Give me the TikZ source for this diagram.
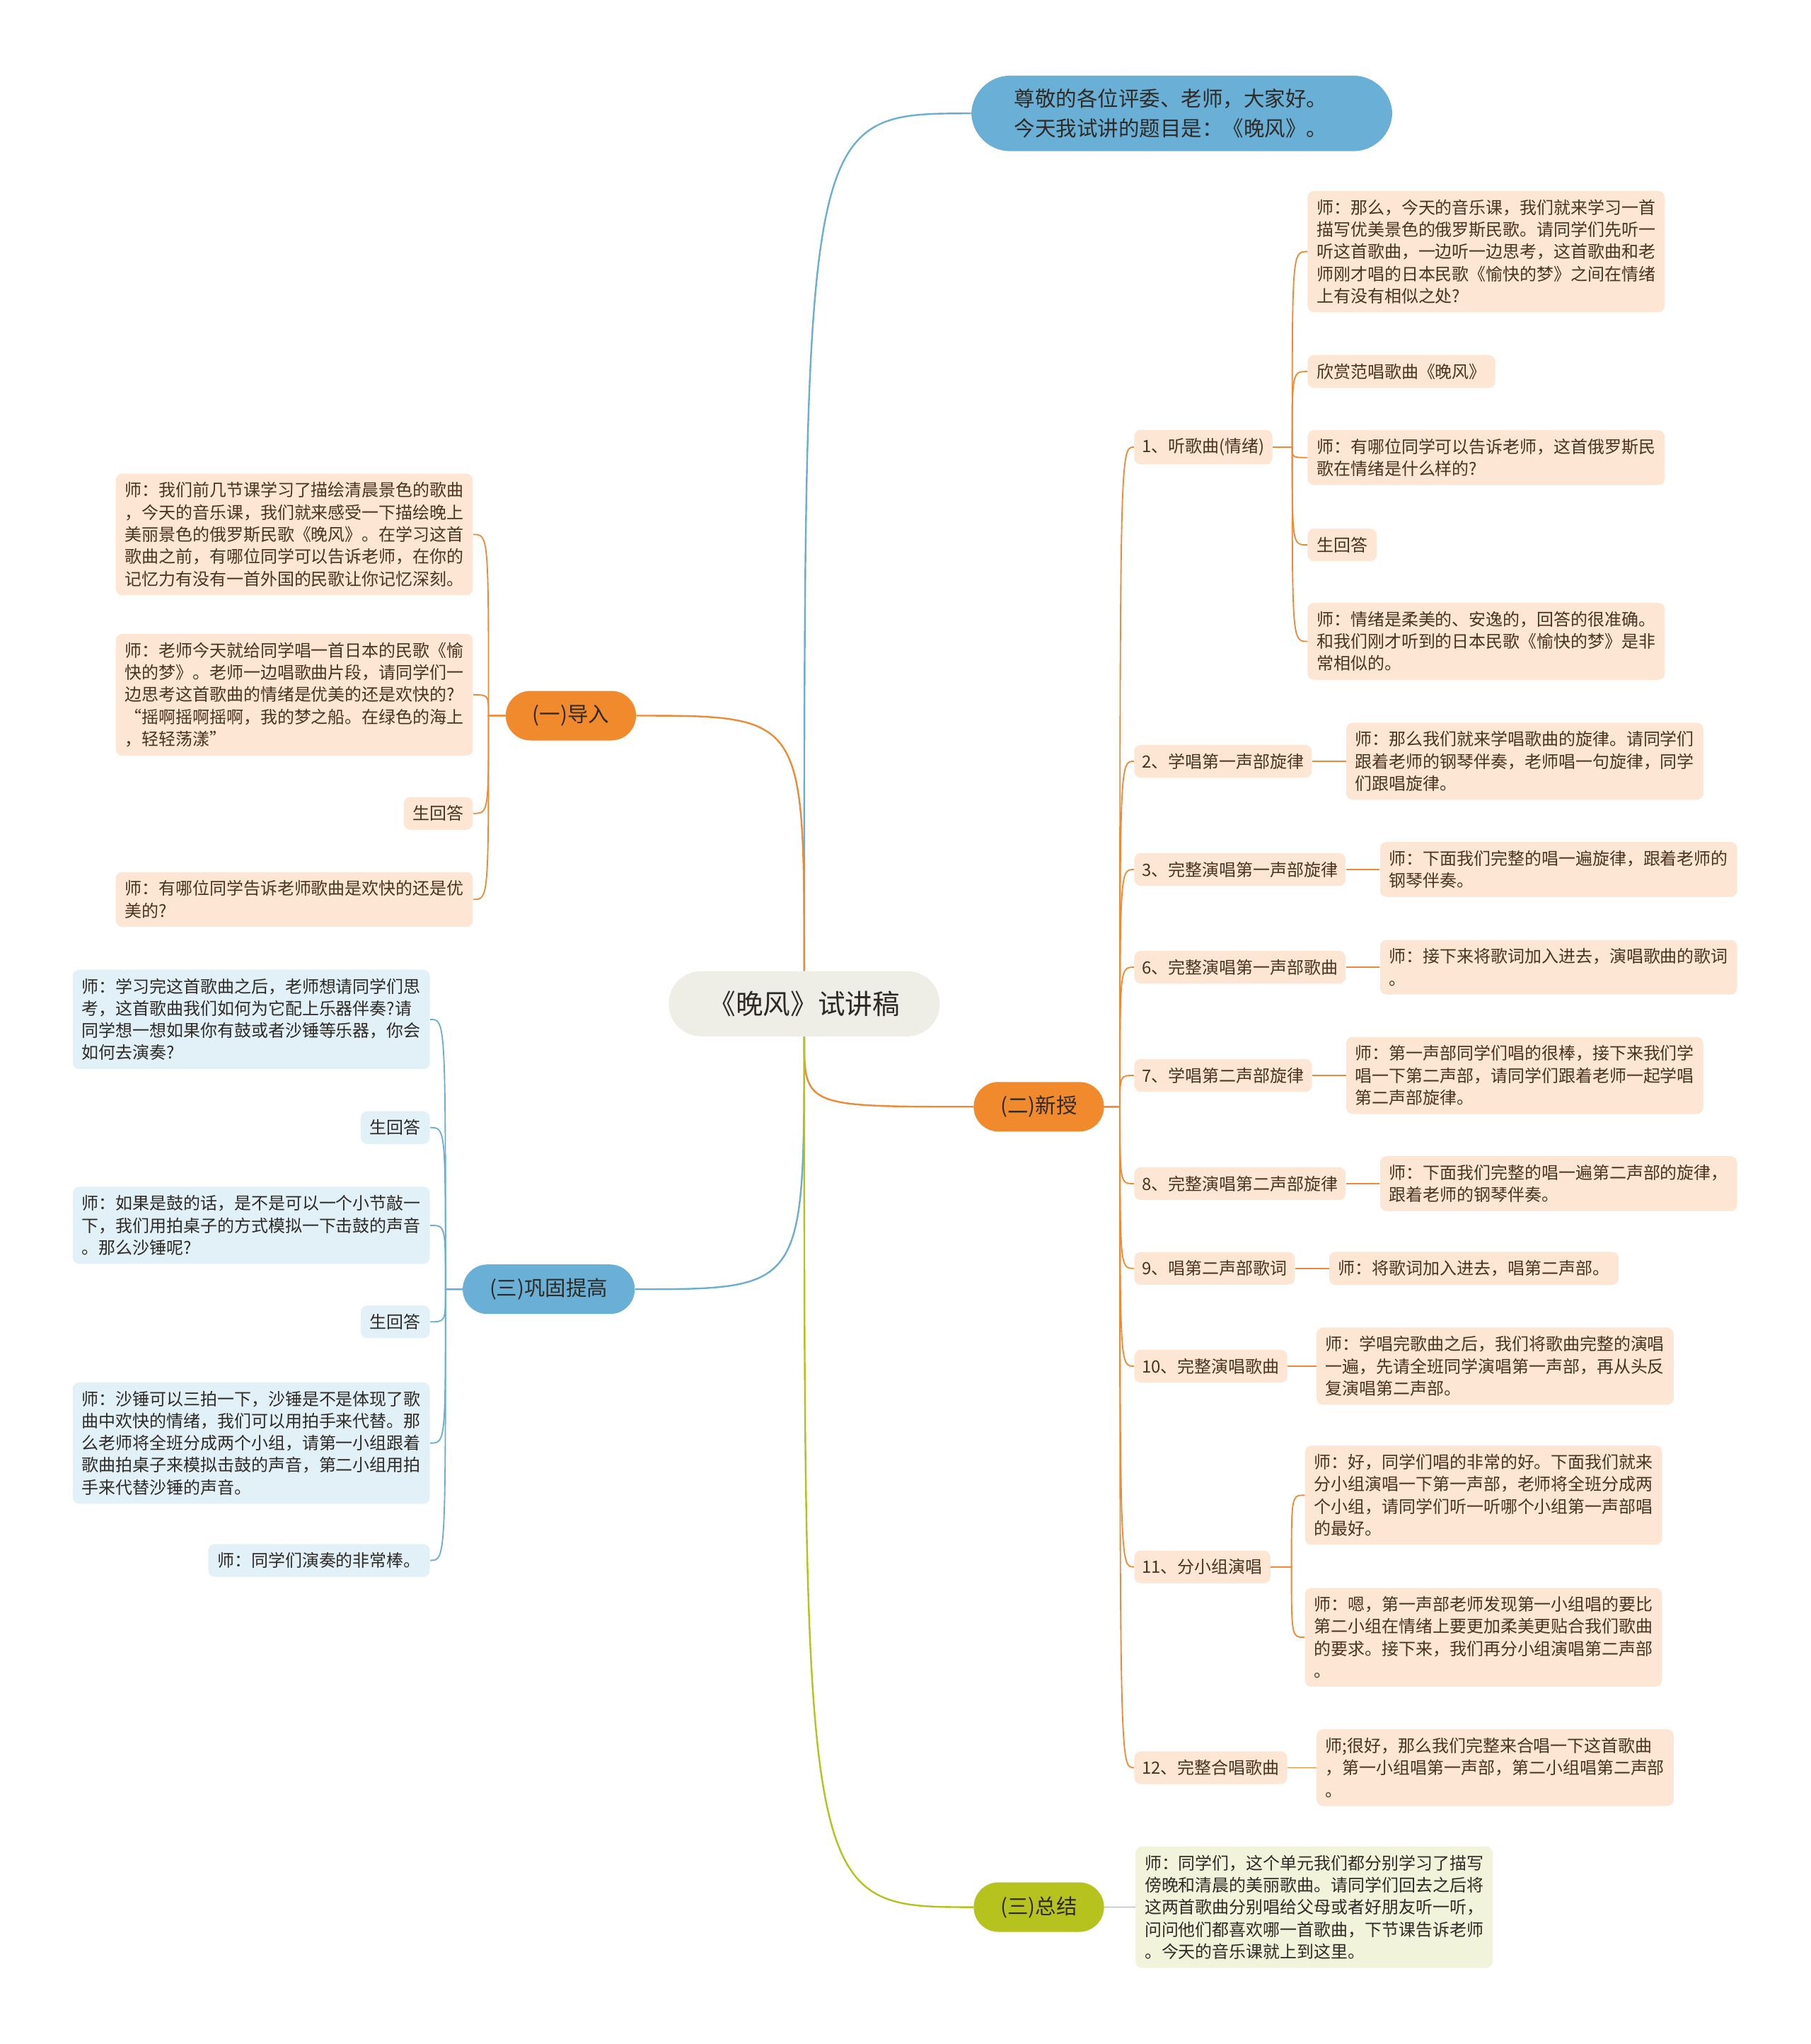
\documentclass[tikz,border=0pt]{standalone}
\usepackage{fontspec}
\setmainfont{Noto Sans CJK SC}
\usetikzlibrary{positioning}

\definecolor{rootgray}{HTML}{EEEEE7}
\definecolor{orgmain}{HTML}{F08A2C}
\definecolor{orgline}{HTML}{EE8A35}
\definecolor{bluemain}{HTML}{6AAFD5}
\definecolor{blueline}{HTML}{6BAED2}
\definecolor{greenmain}{HTML}{B6C31E}
\definecolor{greenline}{HTML}{B5C21B}
\definecolor{peach}{HTML}{FDE6D4}
\definecolor{paleblue}{HTML}{E2F0F8}
\definecolor{palegreen}{HTML}{F1F3DA}
\definecolor{txtdark}{HTML}{2E2A26}
\definecolor{txtbrown}{HTML}{4A3420}

\tikzset{
  rootbox/.style={fill=rootgray, rounded corners=25pt, minimum width=208pt,
    minimum height=50pt, font=\fontsize{21}{25}\selectfont, text=txtdark},
  mainbox/.style={rounded corners=19pt, minimum height=38pt, minimum width=100pt,
    inner xsep=12pt, font=\fontsize{16}{20}\selectfont, text=txtdark},
  titlebox/.style={fill=bluemain, rounded corners=30pt, text width=257pt,
    align=left, inner xsep=33pt, inner ysep=10pt,
    font=\fontsize{16}{23}\selectfont, text=txtdark},
  leaf/.style={fill=peach, rounded corners=5pt, align=left, inner xsep=7pt,
    inner ysep=6.5pt, font=\fontsize{13}{17}\selectfont, text=txtbrown},
  leafblue/.style={leaf, fill=paleblue, text=txtdark},
  leafgreen/.style={leaf, fill=palegreen, text=txtdark},
  subtopic/.style={leaf, inner xsep=6pt, minimum height=24pt},
  orgbr/.style={draw=orgline, line width=1.3pt},
  bluebr/.style={draw=blueline, line width=1.3pt},
  greenbr/.style={draw=greenline, line width=1.3pt},
  orgsub/.style={draw=orgline, line width=1pt},
  bluesub/.style={draw=blueline, line width=1pt},
  greensub/.style={draw=greenline, line width=1pt}
}

\begin{document}
\begin{tikzpicture}[x=1pt,y=-1pt]
  \fill[white] (0,0) rectangle (1389,1568);
  \useasboundingbox (0,0) rectangle (1389,1568);

  % centre and main branches
  \node[rootbox] (root) at (617,770) {《晚风》试讲稿};
  \node[titlebox, anchor=west] (title) at (745,87)
    {尊敬的各位评委、老师，大家好。\\今天我试讲的题目是：《晚风》。};
  \node[mainbox, fill=orgmain] (daoru) at (438,549) {(一)导入};
  \node[mainbox, fill=orgmain] (xinshou) at (797,849) {(二)新授};
  \node[mainbox, fill=bluemain, minimum width=132pt] (gonggu) at (421,989) {(三)巩固提高};
  \node[mainbox, fill=greenmain] (zongjie) at (797,1463) {(三)总结};

  \draw[bluebr] (root.north) .. controls (root.north |- title.west) .. (title.west);
  \draw[orgbr] (root.north) .. controls (root.north |- daoru.east) .. (daoru.east);
  \draw[orgbr] (root.south) .. controls (root.south |- xinshou.west) .. (xinshou.west);
  \draw[bluebr] (root.south) .. controls (root.south |- gonggu.east) .. (gonggu.east);
  \draw[greenbr] (root.south) .. controls (root.south |- zongjie.west) .. (zongjie.west);

  % (一)导入
  \node[leaf, anchor=east] (a1) at (363,410)
    {师：我们前几节课学习了描绘清晨景色的歌曲\\，今天的音乐课，我们就来感受一下描绘晚上\\美丽景色的俄罗斯民歌《晚风》。在学习这首\\歌曲之前，有哪位同学可以告诉老师，在你的\\记忆力有没有一首外国的民歌让你记忆深刻。};
  \node[leaf, anchor=east] (a2) at (363,533)
    {师：老师今天就给同学唱一首日本的民歌《愉\\快的梦》。老师一边唱歌曲片段，请同学们一\\边思考这首歌曲的情绪是优美的还是欢快的?\\“摇啊摇啊摇啊，我的梦之船。在绿色的海上\\，轻轻荡漾”};
  \node[leaf, anchor=east] (a3) at (363,624) {生回答};
  \node[leaf, anchor=east] (a4) at (363,690)
    {师：有哪位同学告诉老师歌曲是欢快的还是优\\美的?};
  \coordinate (fkA) at ([xshift=-13pt]daoru.west);
  \foreach \n in {a1,a2,a3,a4}
    \draw[orgsub] (daoru.west) -- (fkA) .. controls (fkA |- \n.east) .. (\n.east);

  % (二)新授
  \node[subtopic, anchor=west] (b1) at (870,343) {1、听歌曲(情绪)};
  \node[subtopic, anchor=west] (b2) at (870,584) {2、学唱第一声部旋律};
  \node[subtopic, anchor=west] (b3) at (870,667) {3、完整演唱第一声部旋律};
  \node[subtopic, anchor=west] (b4) at (870,742) {6、完整演唱第一声部歌曲};
  \node[subtopic, anchor=west] (b5) at (870,825) {7、学唱第二声部旋律};
  \node[subtopic, anchor=west] (b6) at (870,908) {8、完整演唱第二声部旋律};
  \node[subtopic, anchor=west] (b7) at (870,973) {9、唱第二声部歌词};
  \node[subtopic, anchor=west] (b8) at (870,1048) {10、完整演唱歌曲};
  \node[subtopic, anchor=west] (b9) at (870,1202) {11、分小组演唱};
  \node[subtopic, anchor=west] (b10) at (870,1356) {12、完整合唱歌曲};
  \coordinate (fkB) at ([xshift=12pt]xinshou.east);
  \foreach \n in {b1,b2,b3,b4,b5,b6,b7,b8,b9,b10}
    \draw[orgsub] (xinshou.east) -- (fkB) .. controls (fkB |- \n.west) .. (\n.west);

  \node[leaf, anchor=west] (c1) at (1003,193)
    {师：那么，今天的音乐课，我们就来学习一首\\描写优美景色的俄罗斯民歌。请同学们先听一\\听这首歌曲，一边听一边思考，这首歌曲和老\\师刚才唱的日本民歌《愉快的梦》之间在情绪\\上有没有相似之处?};
  \node[leaf, anchor=west] (c2) at (1003,285) {欣赏范唱歌曲《晚风》};
  \node[leaf, anchor=west] (c3) at (1003,351)
    {师：有哪位同学可以告诉老师，这首俄罗斯民\\歌在情绪是什么样的?};
  \node[leaf, anchor=west] (c4) at (1003,418) {生回答};
  \node[leaf, anchor=west] (c5) at (1003,492)
    {师：情绪是柔美的、安逸的，回答的很准确。\\和我们刚才听到的日本民歌《愉快的梦》是非\\常相似的。};
  \coordinate (fkC) at ([xshift=15pt]b1.east);
  \foreach \n in {c1,c2,c3,c4,c5}
    \draw[orgsub] (b1.east) -- (fkC) .. controls (fkC |- \n.west) .. (\n.west);

  \node[leaf, right=26pt of b2] (d2)
    {师：那么我们就来学唱歌曲的旋律。请同学们\\跟着老师的钢琴伴奏，老师唱一句旋律，同学\\们跟唱旋律。};
  \node[leaf, right=26pt of b3] (d3)
    {师：下面我们完整的唱一遍旋律，跟着老师的\\钢琴伴奏。};
  \node[leaf, right=26pt of b4] (d4)
    {师：接下来将歌词加入进去，演唱歌曲的歌词\\。};
  \node[leaf, right=26pt of b5] (d5)
    {师：第一声部同学们唱的很棒，接下来我们学\\唱一下第二声部，请同学们跟着老师一起学唱\\第二声部旋律。};
  \node[leaf, right=26pt of b6] (d6)
    {师：下面我们完整的唱一遍第二声部的旋律，\\跟着老师的钢琴伴奏。};
  \node[leaf, right=26pt of b7] (d7) {师：将歌词加入进去，唱第二声部。};
  \node[leaf, right=22pt of b8] (d8)
    {师：学唱完歌曲之后，我们将歌曲完整的演唱\\一遍，先请全班同学演唱第一声部，再从头反\\复演唱第二声部。};
  \node[leaf, right=22pt of b10] (d10)
    {师;很好，那么我们完整来合唱一下这首歌曲\\，第一小组唱第一声部，第二小组唱第二声部\\。};
  \foreach \p/\c in {b2/d2,b3/d3,b4/d4,b5/d5,b6/d6,b7/d7,b8/d8,b10/d10}
    \draw[orgsub] (\p.east) -- (\c.west);

  \node[leaf, anchor=west] (e1) at (1001,1147)
    {师：好，同学们唱的非常的好。下面我们就来\\分小组演唱一下第一声部，老师将全班分成两\\个小组，请同学们听一听哪个小组第一声部唱\\的最好。};
  \node[leaf, anchor=west] (e2) at (1001,1256)
    {师：嗯，第一声部老师发现第一小组唱的要比\\第二小组在情绪上要更加柔美更贴合我们歌曲\\的要求。接下来，我们再分小组演唱第二声部\\。};
  \coordinate (fkE) at ([xshift=16pt]b9.east);
  \foreach \n in {e1,e2}
    \draw[orgsub] (b9.east) -- (fkE) .. controls (fkE |- \n.west) .. (\n.west);

  % (三)巩固提高
  \node[leafblue, anchor=east] (g1) at (330,782)
    {师：学习完这首歌曲之后，老师想请同学们思\\考，这首歌曲我们如何为它配上乐器伴奏?请\\同学想一想如果你有鼓或者沙锤等乐器，你会\\如何去演奏?};
  \node[leafblue, anchor=east] (g2) at (330,865) {生回答};
  \node[leafblue, anchor=east] (g3) at (330,940)
    {师：如果是鼓的话，是不是可以一个小节敲一\\下，我们用拍桌子的方式模拟一下击鼓的声音\\。那么沙锤呢?};
  \node[leafblue, anchor=east] (g4) at (330,1014) {生回答};
  \node[leafblue, anchor=east] (g5) at (330,1107)
    {师：沙锤可以三拍一下，沙锤是不是体现了歌\\曲中欢快的情绪，我们可以用拍手来代替。那\\么老师将全班分成两个小组，请第一小组跟着\\歌曲拍桌子来模拟击鼓的声音，第二小组用拍\\手来代替沙锤的声音。};
  \node[leafblue, anchor=east] (g6) at (330,1197) {师：同学们演奏的非常棒。};
  \coordinate (fkG) at ([xshift=-13pt]gonggu.west);
  \foreach \n in {g1,g2,g3,g4,g5,g6}
    \draw[bluesub] (gonggu.west) -- (fkG) .. controls (fkG |- \n.east) .. (\n.east);

  % (三)总结
  \node[leafgreen, anchor=west] (f1) at (871,1463)
    {师：同学们，这个单元我们都分别学习了描写\\傍晚和清晨的美丽歌曲。请同学们回去之后将\\这两首歌曲分别唱给父母或者好朋友听一听，\\问问他们都喜欢哪一首歌曲，下节课告诉老师\\。今天的音乐课就上到这里。};
  \draw[greensub] (zongjie.east) -- (f1.west);
\end{tikzpicture}
\end{document}
